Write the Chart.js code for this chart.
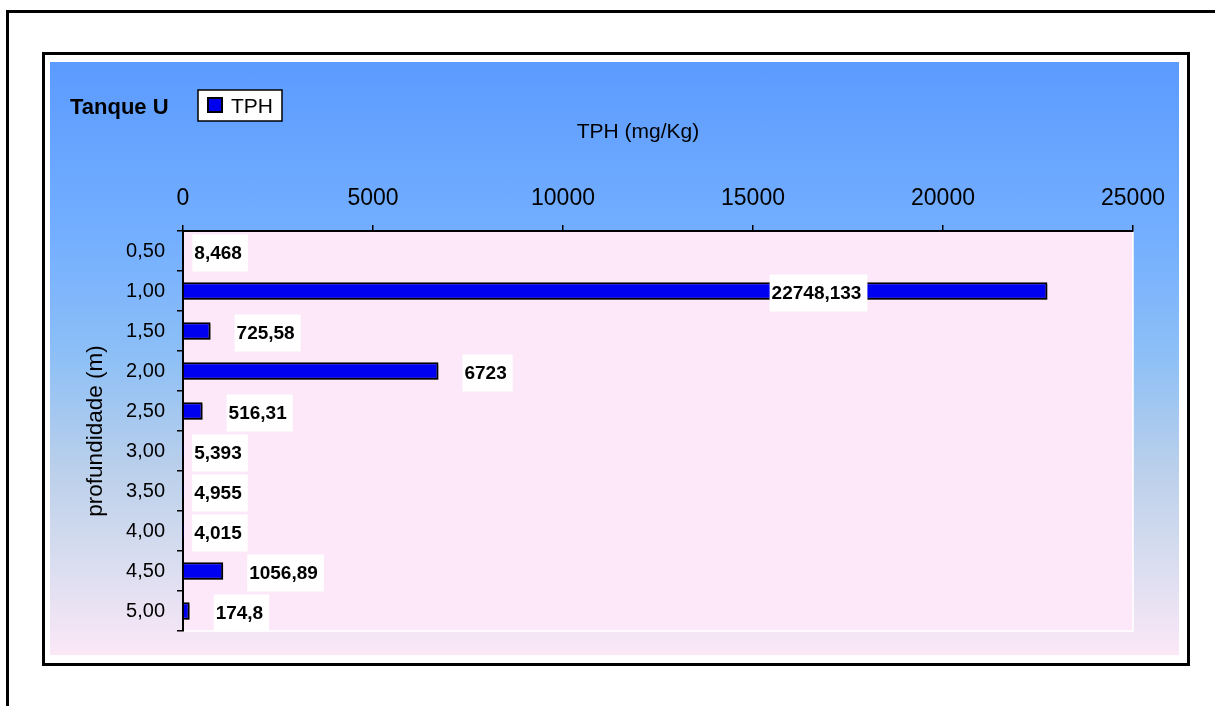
<!DOCTYPE html>
<html>
<head>
    <title>Tanque U - TPH</title>
    <script src="https://cdn.jsdelivr.net/npm/chart.js"></script>
    <style>
        html, body {
            margin: 0;
            padding: 0;
            background: #ffffff;
            overflow: hidden;
            width: 1215px;
            height: 706px;
        }
        .outer-frame {
            position: absolute;
            left: 6px;
            top: 10px;
            width: 1300px;
            height: 800px;
            border-top: 3px solid #000;
            border-left: 3px solid #000;
        }
        .inner-frame {
            position: absolute;
            left: 42px;
            top: 52px;
            width: 1148px;
            height: 614px;
            box-sizing: border-box;
            border: 3px solid #000;
            background: #ffffff;
        }
        .chart-bg {
            position: absolute;
            left: 50px;
            top: 62px;
            width: 1129px;
            height: 593px;
            background: linear-gradient(to bottom, #5c9bff 0%, #74afff 30%, #8ec0f6 50%, #b9cfeb 68%, #d6dcef 83%, #fbe8f7 100%);
        }
    </style>
</head>
<body>
    <div class="outer-frame"></div>
    <div class="inner-frame"></div>
    <div class="chart-bg">
        <canvas id="tphChart" width="1129" height="593"></canvas>
    </div>
    <script>
        // depth of each sample and TPH result
        const depths = ['0,50', '1,00', '1,50', '2,00', '2,50', '3,00', '3,50', '4,00', '4,50', '5,00'];
        const tphValues = [8.468, 22748.133, 725.58, 6723, 516.31, 5.393, 4.955, 4.015, 1056.89, 174.8];
        const xTicks = [0, 5000, 10000, 15000, 20000, 25000];

        const fontFamily = '"Liberation Sans", Arial, sans-serif';
        Chart.defaults.font.family = fontFamily;
        Chart.defaults.color = '#000';

        // pink plot area with a thin white edge
        const plotArea = {
            id: 'plotArea',
            beforeDraw(chart) {
                const { ctx, chartArea: a } = chart;
                ctx.save();
                ctx.fillStyle = '#fce8f8';
                ctx.fillRect(a.left, a.top, a.right - a.left, a.bottom - a.top);
                ctx.strokeStyle = '#ffffff';
                ctx.lineWidth = 1.5;
                ctx.beginPath();
                ctx.moveTo(a.right, a.top);
                ctx.lineTo(a.right, a.bottom);
                ctx.lineTo(a.left, a.bottom);
                ctx.stroke();
                ctx.restore();
            }
        };

        // soft shadow under the bars
        const barShadow = {
            id: 'barShadow',
            beforeDatasetsDraw(chart) {
                const ctx = chart.ctx;
                ctx.save();
                ctx.shadowColor = 'rgba(0, 0, 0, 0.35)';
                ctx.shadowOffsetX = 1;
                ctx.shadowOffsetY = 2;
                ctx.shadowBlur = 1;
            },
            afterDatasetsDraw(chart) {
                chart.ctx.restore();
            }
        };

        // value labels in white boxes next to each bar
        const valueLabels = {
            id: 'valueLabels',
            afterDatasetsDraw(chart) {
                const { ctx, chartArea: a } = chart;
                const meta = chart.getDatasetMeta(0);
                ctx.save();
                ctx.font = 'bold 19px ' + fontFamily;
                ctx.textBaseline = 'middle';
                meta.data.forEach((bar, i) => {
                    const txt = String(tphValues[i]).replace('.', ',');
                    const w = ctx.measureText(txt).width + 8;
                    const h = 37;
                    let x = bar.x + (bar.x - a.left < 3 ? 9 : 24);
                    if (x + w > a.right) x = bar.x - 180 - w;
                    const y = bar.y + 2;
                    ctx.fillStyle = '#ffffff';
                    ctx.fillRect(x, y - h / 2, w, h);
                    ctx.fillStyle = '#000';
                    ctx.fillText(txt, x + 2, y + 1);
                });
                ctx.restore();
            }
        };

        // chart name, legend box and axis title
        const headerText = {
            id: 'headerText',
            afterDraw(chart) {
                const { ctx, chartArea: a } = chart;
                ctx.save();
                ctx.textBaseline = 'middle';
                ctx.fillStyle = '#000';
                ctx.font = 'bold 22px ' + fontFamily;
                ctx.fillText('Tanque U', 20, 46);

                ctx.fillStyle = '#ffffff';
                ctx.fillRect(148, 28, 84, 31);
                ctx.strokeStyle = '#000';
                ctx.lineWidth = 1.5;
                ctx.strokeRect(148, 28, 84, 31);
                ctx.fillStyle = '#0000f0';
                ctx.fillRect(158, 36, 14, 14);
                ctx.lineWidth = 2;
                ctx.strokeRect(158, 36, 14, 14);
                ctx.fillStyle = '#000';
                ctx.font = '21px ' + fontFamily;
                ctx.fillText('TPH', 181, 45);

                ctx.textAlign = 'center';
                ctx.fillText('TPH (mg/Kg)', (a.left + a.right) / 2 - 20, 70);
                ctx.restore();
            }
        };

        const ctx = document.getElementById('tphChart').getContext('2d');
        const tphChart = new Chart(ctx, {
            type: 'bar',
            data: {
                labels: depths,
                datasets: [{
                    label: 'TPH',
                    data: tphValues,
                    backgroundColor: '#0000f0',
                    borderColor: '#000',
                    borderWidth: 2,
                    barPercentage: 0.44,
                    categoryPercentage: 1.0
                }]
            },
            options: {
                indexAxis: 'y',
                responsive: false,
                animation: false,
                layout: { padding: { left: 0, top: 0, right: 46, bottom: 23 } },
                plugins: {
                    legend: { display: false },
                    tooltip: { enabled: false }
                },
                scales: {
                    x: {
                        position: 'top',
                        min: 0,
                        max: 25000,
                        afterBuildTicks(scale) {
                            scale.ticks = xTicks.map(v => ({ value: v }));
                        },
                        afterFit(scale) { scale.height = 169; },
                        grid: {
                            drawOnChartArea: false,
                            drawTicks: true,
                            tickLength: 6,
                            color: '#000',
                            lineWidth: 1.5
                        },
                        border: { display: true, color: '#000', width: 2 },
                        ticks: {
                            font: { size: 23 },
                            padding: 13,
                            maxRotation: 0,
                            autoSkip: false,
                            callback: v => String(v)
                        }
                    },
                    y: {
                        afterFit(scale) { scale.width = 133; },
                        grid: {
                            drawOnChartArea: false,
                            drawTicks: true,
                            tickLength: 6,
                            color: '#000',
                            lineWidth: 1.5
                        },
                        border: { display: true, color: '#000', width: 2 },
                        ticks: {
                            font: { size: 20 },
                            padding: 12
                        },
                        title: {
                            display: true,
                            text: 'profundidade (m)',
                            font: { size: 22.5 },
                            padding: { top: 32, bottom: 0 }
                        }
                    }
                }
            },
            plugins: [plotArea, barShadow, valueLabels, headerText]
        });
    </script>
</body>
</html>
